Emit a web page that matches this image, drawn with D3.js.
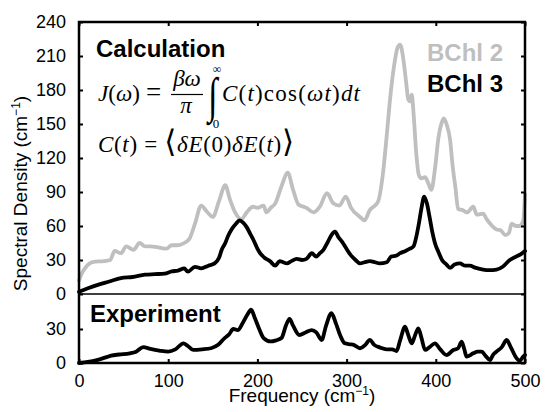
<!DOCTYPE html>
<html>
<head>
<meta charset="utf-8">
<script src="https://cdn.jsdelivr.net/npm/d3@7"></script>
<style>
  html, body { margin: 0; padding: 0; background: #fff; }
  svg { display: block; }
</style>
</head>
<body>
<div id="chart"></div>
<script>
// ---------- data ----------
const bchl2Freq = [0,3,6,12,18,28,35,40,47,53,61,68,74,80,90,98,104,110,118,124,130,137,143,150,157,164,169,175,182,188,195,200,207,210,215,220,227,234,240,246,255,263,270,278,285,292,299,305,315,320,326,335,341,345,349,353,357,360,364,367,369,371,373,375,378,381,384,388,391,395,399,403,407,409,412,416,419,422,425,430,435,442,446,453,457,461,468,473,478,482,485,490,494,498,500];
const bchl2Vals = [12,18,22,27,28.5,29,30,38,36,42,39,45,42,42,41,40,43,43,45,49,62,78,73,68,82,96,84,72,66,72,77,76,78,72,76,80,95,107,92,79,76,72,77,89,80,78,86,76,68,65,74,81,108,140,174,200,217,220,205,185,172,170,176,160,125,105,102,103,99,92,110,138,152,155,150,136,112,94,75,74,72,77,70,71,66,62,57,56,52,54,62,60,60,65,88];

const bchl3Freq = [0,10,21,34,47,60,74,85,96,104,111,118,122,130,137,145,152,157,160,164,167,171,176,180,184,188,192,196,200,203,208,214,220,225,229,233,238,244,250,255,261,266,270,274,279,283,287,291,295,299,304,310,315,320,326,332,337,345,350,356,360,366,371,375,378,381,384,387,390,393,396,399,403,407,412,416,421,427,433,438,445,453,460,468,475,483,490,495,500];
const bchl3Vals = [2,5,8,11,14,15,17,17.5,18,20,20.6,22.6,19.7,24,22.6,25,27,32,39,45,51,57,62,65,63,59,53,47,40,36,32,29,25,29,28,27,29,31,30,31,36,33,36,39,46,52,55,50,46,41,35,30,27,28,29,28,27,28,33,34,36,38,40,42,50,62,76,86,80,68,55,45,37,30,26,23,26,27,25,25,23,21.5,21,21.5,24,30,33,35,38];

const expFreq = [0,10,20,30,36,45,57,64,72,80,90,100,108,117,122,128,138,148,156,163,168,173,178,184,189,193,197,202,207,215,221,227,232,236,240,247,254,261,266,272,277,283,288,293,298,304,308,315,321,326,331,337,345,351,356,360,365.5,369,373,377,380.4,384,388,393,399,405,412,419.6,425,429,432,434.5,442,447,451.5,456,460.8,464,468,474,479.5,484,490.7,494,498,500];
const expVals = [0,1,2.6,5,6.5,7.5,8.5,10,14,12.5,11,10,12,17.4,15,11.5,12,13,16,21.8,25,30,29,36,43,47,40,30,22,19,20,22,33,39,33,24.7,27,29,27,20.3,33,44,35,24,17.4,16.5,16,13,16,20.3,16,13.8,12,12,10.6,20,32,25,17.4,25,30.6,22,11.5,14,17.4,12,7,11.5,13,18.8,12,5.6,8.5,10,10,6,2.6,7,10,14,20.3,14,4,2,5.6,7];

const xTicks = [0,100,200,300,400,500];
const yTicksUpper = [0,30,60,90,120,150,180,210,240];
const yTicksLower = [0,30];
const seriesNames = ["BChl 2","BChl 3"];
const seriesColors = ["#bfbfbf","#000000"];

// ---------- layout ----------
const W = 547, H = 412;
const pLeft = 79, pRight = 525, pTop = 22, pMid = 294, pBottom = 363;
const pxPerUnit = (pMid - pTop) / 240;

const svg = d3.select("#chart").append("svg").attr("width", W).attr("height", H)
  .attr("font-family", "Arial, 'Liberation Sans', Helvetica, sans-serif");

const x = d3.scaleLinear().domain([0, 500]).range([pLeft, pRight]);
const yU = d3.scaleLinear().domain([0, 240]).range([pMid, pTop]);
const yL = d3.scaleLinear().domain([0, (pBottom - pMid) / pxPerUnit]).range([pBottom, pMid]);

// ---------- curves ----------
function drawLine(freq, vals, yScale, color) {
  const pts = freq.map((f, i) => [f, vals[i]]);
  svg.append("path").datum(pts)
    .attr("fill", "none").attr("stroke", color).attr("stroke-width", 3.8)
    .attr("stroke-linejoin", "round").attr("stroke-linecap", "round")
    .attr("d", d3.line().x(d => x(d[0])).y(d => yScale(d[1])).curve(d3.curveMonotoneX));
}
drawLine(bchl2Freq, bchl2Vals, yU, seriesColors[0]);
drawLine(bchl3Freq, bchl3Vals, yU, seriesColors[1]);
drawLine(expFreq, expVals, yL, "#000");

// ---------- axes ----------
function styleAxis(g) {
  g.select(".domain").remove();
  g.selectAll(".tick line").attr("stroke", "#000").attr("stroke-width", 2);
  g.selectAll(".tick text").attr("font-size", 18).attr("fill", "#000")
    .attr("font-family", "Arial, 'Liberation Sans', Helvetica, sans-serif");
}
svg.append("g").attr("transform", `translate(0,${pBottom})`)
  .call(d3.axisBottom(x).tickValues(xTicks).tickSize(-4).tickPadding(11).tickFormat(d3.format("d")))
  .call(styleAxis);
svg.append("g").attr("transform", `translate(0,${pTop})`)
  .call(d3.axisTop(x).tickValues(xTicks).tickSize(-4).tickFormat(""))
  .call(styleAxis);
svg.append("g").attr("transform", `translate(${pLeft},0)`)
  .call(d3.axisLeft(yU).tickValues(yTicksUpper).tickSize(-4).tickPadding(13))
  .call(styleAxis);
svg.append("g").attr("transform", `translate(${pLeft},0)`)
  .call(d3.axisLeft(yL).tickValues(yTicksLower).tickSize(-4).tickPadding(13))
  .call(styleAxis);
svg.append("g").attr("transform", `translate(${pRight},0)`)
  .call(d3.axisRight(yU).tickValues(yTicksUpper).tickSize(-4).tickFormat(""))
  .call(styleAxis);
svg.append("g").attr("transform", `translate(${pRight},0)`)
  .call(d3.axisRight(yL).tickValues(yTicksLower).tickSize(-4).tickFormat(""))
  .call(styleAxis);

// frame + separator
svg.append("line").attr("x1", pLeft).attr("x2", pRight).attr("y1", pMid).attr("y2", pMid)
  .attr("stroke", "#000").attr("stroke-width", 1.5);
svg.append("rect").attr("x", pLeft).attr("y", pTop).attr("width", pRight - pLeft).attr("height", pBottom - pTop)
  .attr("fill", "none").attr("stroke", "#000").attr("stroke-width", 2.5);

// axis titles
const yt = svg.append("text").attr("transform", `translate(27,193.5) rotate(-90)`)
  .attr("text-anchor", "middle").attr("font-size", 19);
yt.append("tspan").text("Spectral Density (cm");
yt.append("tspan").attr("font-size", 12).attr("dy", -7).text("\u22121");
yt.append("tspan").attr("dy", 7).text(")");

const xt = svg.append("text").attr("x", 302).attr("y", 402)
  .attr("text-anchor", "middle").attr("font-size", 19);
xt.append("tspan").text("Frequency (cm");
xt.append("tspan").attr("font-size", 12).attr("dy", -7).text("\u22121");
xt.append("tspan").attr("dy", 7).text(")");

// panel labels & legend
svg.append("text").attr("x", 96).attr("y", 57).attr("font-size", 24).attr("font-weight", "bold").text("Calculation");
svg.append("text").attr("x", 90).attr("y", 322).attr("font-size", 24).attr("font-weight", "bold").text("Experiment");
seriesNames.forEach((n, i) => {
  svg.append("text").attr("x", 503).attr("y", 61 + i * 31).attr("text-anchor", "end")
    .attr("font-size", 24).attr("font-weight", "bold").attr("fill", seriesColors[i]).text(n);
});

// ---------- formulas ----------
const serif = "'Liberation Serif', 'Times New Roman', 'DejaVu Serif', serif";
const fg = svg.append("g").attr("font-family", serif).attr("font-size", 23).attr("fill", "#000");
function piece(parent, xPos, yPos, txt, italic, size) {
  const t = parent.append("text").attr("x", xPos).attr("y", yPos).text(txt);
  if (italic) t.attr("font-style", "italic");
  if (size) t.attr("font-size", size);
  return t;
}
// line 1
const t1 = fg.append("text").attr("x", 98).attr("y", 101);
t1.append("tspan").attr("font-style", "italic").text("J");
t1.append("tspan").text("(");
t1.append("tspan").attr("font-style", "italic").text("\u03C9");
t1.append("tspan").text(")");
piece(fg, 146, 101, "=", false, 27);
fg.append("text").attr("x", 187).attr("y", 86).attr("text-anchor", "middle").attr("font-style", "italic").text("\u03B2\u03C9");
fg.append("line").attr("x1", 171).attr("x2", 203).attr("y1", 94.5).attr("y2", 94.5).attr("stroke", "#000").attr("stroke-width", 1.2);
piece(fg, 186, 113, "\u03C0", true).attr("text-anchor", "middle");
fg.append("text").attr("transform", "translate(208,112) scale(1,1.45)").attr("font-size", 34).text("\u222B");
piece(fg, 217, 72.5, "\u221E", false, 12).attr("text-anchor", "middle");
piece(fg, 216, 128, "0", false, 13).attr("text-anchor", "middle");
const t2 = fg.append("text").attr("x", 222).attr("y", 101)
  .attr("textLength", 138).attr("lengthAdjust", "spacing");
t2.append("tspan").attr("font-style", "italic").text("C");
t2.append("tspan").text("(");
t2.append("tspan").attr("font-style", "italic").text("t");
t2.append("tspan").text(")");
t2.append("tspan").text("cos(");
t2.append("tspan").attr("font-style", "italic").text("\u03C9t");
t2.append("tspan").text(")");
t2.append("tspan").attr("font-style", "italic").text("dt");
// line 2
const t3 = fg.append("text").attr("x", 98).attr("y", 152)
  .attr("textLength", 196).attr("lengthAdjust", "spacing");
t3.append("tspan").attr("font-style", "italic").text("C");
t3.append("tspan").text("(");
t3.append("tspan").attr("font-style", "italic").text("t");
t3.append("tspan").text(") = ");
t3.append("tspan").attr("font-size", 31).attr("font-family", "'DejaVu Serif', serif").text("\u27E8");
t3.append("tspan").attr("font-style", "italic").text("\u03B4E");
t3.append("tspan").text("(0)");
t3.append("tspan").attr("font-style", "italic").text("\u03B4E");
t3.append("tspan").text("(");
t3.append("tspan").attr("font-style", "italic").text("t");
t3.append("tspan").text(")");
t3.append("tspan").attr("font-size", 31).attr("font-family", "'DejaVu Serif', serif").text("\u27E9");
</script>
</body>
</html>
